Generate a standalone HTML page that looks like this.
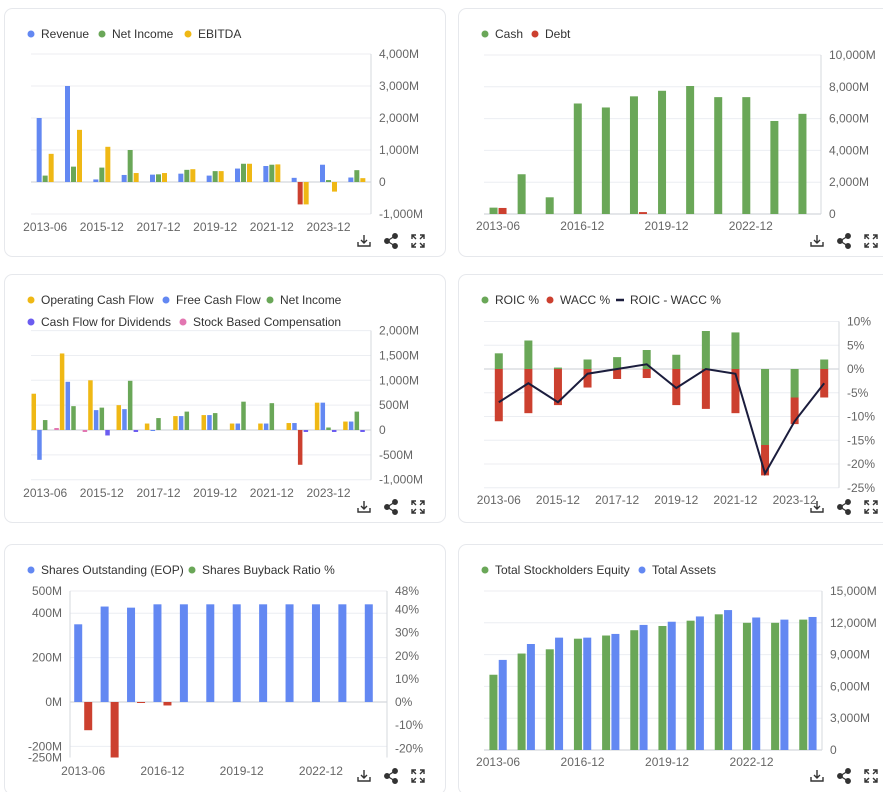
<!DOCTYPE html>
<html><head><meta charset="utf-8">
<style>
html,body{margin:0;padding:0;background:#fff;width:883px;height:792px;overflow:hidden;font-family:"Liberation Sans",Arial,sans-serif;}
svg text{font-family:"Liberation Sans",Arial,sans-serif;}
</style></head>
<body>
<svg id="root" width="883" height="792" viewBox="0 0 883 792" xmlns="http://www.w3.org/2000/svg">
  <rect x="4.5" y="8.5" width="441" height="248" rx="8" fill="#fff" stroke="#e6e8ec"/>
  <rect x="458.5" y="8.5" width="441" height="248" rx="8" fill="#fff" stroke="#e6e8ec"/>
  <rect x="4.5" y="274.5" width="441" height="248" rx="8" fill="#fff" stroke="#e6e8ec"/>
  <rect x="458.5" y="274.5" width="441" height="248" rx="8" fill="#fff" stroke="#e6e8ec"/>
  <rect x="4.5" y="544.5" width="441" height="250" rx="8" fill="#fff" stroke="#e6e8ec"/>
  <rect x="458.5" y="544.5" width="441" height="250" rx="8" fill="#fff" stroke="#e6e8ec"/>
</svg>
<script>
// ---- data ----
const catsA = ["2013-06","2014-12","2015-12","2016-12","2017-12","2018-12","2019-12","2020-12","2021-12","2022-12","2023-12","2024-12"];
const catsB = ["2013-06","2014-12","2015-12","2016-12","2017-12","2018-12","2019-12","2020-12","2021-12","2022-12","2023-12","2024-12"];
const labelsA = ["2013-06","","2015-12","","2017-12","","2019-12","","2021-12","","2023-12",""];
const labelsB = ["2013-06","","","2016-12","","","2019-12","","","2022-12","",""];

const c1Revenue = [2000,3000,80,220,230,260,200,420,500,130,540,140];
const c1NetIncome = [200,480,450,1000,240,380,340,570,540,-700,60,370];
const c1Ebitda = [880,1630,1100,280,280,400,340,570,550,-700,-300,120];
const c1Ticks = [4000,3000,2000,1000,0,-1000];
const c1TickLabels = ["4,000M","3,000M","2,000M","1,000M","0","-1,000M"];

const c2Cash = [400,2500,1050,6950,6700,7400,7750,8050,7350,7350,5850,6300];
const c2Debt = [380,0,0,0,0,120,0,0,0,0,0,0];
const c2Ticks = [10000,8000,6000,4000,2000,0];
const c2TickLabels = ["10,000M","8,000M","6,000M","4,000M","2,000M","0"];

const c3Ocf = [730,1540,1000,500,130,280,300,130,130,140,550,170];
const c3Fcf = [-600,970,400,420,-20,280,300,130,130,140,550,170];
const c3NetIncome = [200,480,450,990,240,370,340,570,540,-700,50,370];
const c3Div = [0,0,-110,-40,0,0,0,0,0,-40,-40,-40];
const c3Sbc = [40,-40,0,0,0,0,0,0,0,0,0,0];
const c3Ticks = [2000,1500,1000,500,0,-500,-1000];
const c3TickLabels = ["2,000M","1,500M","1,000M","500M","0","-500M","-1,000M"];

const c4Roic = [3.3,6,0.3,2,2.5,4,3,8,7.7,-16,-6,2];
const c4Wacc = [11,9.3,7.6,3.9,2.1,1.9,7.6,8.4,9.3,6.4,5.6,6];
const c4Spread = [-7,-3,-7,-1,0,1,-4,0,-1,-22,-11,-3];
const c4Ticks = [10,5,0,-5,-10,-15,-20,-25];
const c4TickLabels = ["10%","5%","0%","-5%","-10%","-15%","-20%","-25%"];

const c5Shares = [350,430,425,440,440,440,440,440,440,440,440,440];
const c5Buyback = [-12.2,-24,-0.3,-1.5,0,0,0,0,0,0,0,0];
const c5Ticks = [500,400,200,0,-200,-250];
const c5TickLabels = ["500M","400M","200M","0M","-200M","-250M"];
const c5PctTicks = [48,40,30,20,10,0,-10,-20];
const c5PctLabels = ["48%","40%","30%","20%","10%","0%","-10%","-20%"];

const c6Equity = [7100,9100,9500,10500,10800,11300,11700,12200,12800,12000,12000,12300];
const c6Assets = [8500,10000,10600,10600,10950,11800,12100,12600,13200,12500,12300,12550];
const c6Ticks = [15000,12000,9000,6000,3000,0];
const c6TickLabels = ["15,000M","12,000M","9,000M","6,000M","3,000M","0"];

// ---- colors ----
const BLUE="#6388f2", GREEN="#6aa758", YELLOW="#efb815", RED="#cc402f", PURPLE="#6b5cf0", PINK="#e276b1", LINE="#1b1d3d";
const NS="http://www.w3.org/2000/svg";
const root=document.getElementById('root');
function mk(tag,attrs,parent){const e=document.createElementNS(NS,tag);for(const k in attrs)e.setAttribute(k,attrs[k]);(parent||root).appendChild(e);return e;}

function axes(g,cfg,ticks,labels){
  const y=v=>cfg.zero - v*cfg.ppu;
  ticks.forEach((t,i)=>{
    const gl=mk('line',{x1:cfg.left,x2:cfg.right,y1:y(t),y2:y(t),stroke:t===0?'#c9ccd3':'#eceef2','stroke-width':1},g);
    
    
    const tx=mk('text',{x:cfg.right+8,y:y(t)+4,'font-size':12,fill:'#666'},g);
    tx.textContent=labels[i];
    
    
  });
  const ax=mk('line',{x1:cfg.right,x2:cfg.right,y1:y(ticks[0]),y2:y(ticks[ticks.length-1]),stroke:'#d5d8de'},g);
  
  
}
function xlabels(g,cfg,labels){
  const gw=(cfg.right-cfg.left)/labels.length;
  labels.forEach((l,i)=>{
    if(!l)return;
    const tx=mk('text',{x:cfg.left+gw*(i+0.5),y:cfg.xly,'font-size':12,fill:'#666','text-anchor':'middle'},g);
    tx.textContent=l;
    
    
  });
}
function bars(g,cfg,series){
  const n=series[0].vals.length, gw=(cfg.right-cfg.left)/n, k=series.length;
  const y=v=>cfg.zero - v*cfg.ppu;
  for(let i=0;i<n;i++){
    const c=cfg.left+gw*(i+0.5);
    series.forEach((s,j)=>{
      const v=s.vals[i]; if(v===0)return;
      const x=c+(j-(k-1)/2)*cfg.step-cfg.bw/2;
      const yy=Math.min(y(v),y(0)), h=Math.abs(y(v)-y(0));
      const r=mk('rect',{x:x,y:yy,width:cfg.bw,height:Math.max(h,1),fill:(v<0&&s.neg)?s.neg:s.color},g);
      
      
    });
  }
}
function legend(g,items,x0,y0){
  let x=x0;
  items.forEach(it=>{
    if(it.line){mk('line',{x1:x-4,x2:x+4,y1:y0-4,y2:y0-4,stroke:it.color,'stroke-width':2.5},g);}
    else mk('circle',{cx:x,cy:y0-4,r:3.5,fill:it.color},g);
    const t=mk('text',{x:x+10,y:y0,'font-size':12,fill:'#333'},g);
    t.textContent=it.label;
    
    
    x+=10+it.w+14;
  });
}
function legendAt(g,items,coords){
  items.forEach((it,i)=>legend(g,[it],coords[i][0],coords[i][1]));
}
function icons(g,x,y){
  const d=mk('g',{transform:`translate(${x},${y})`,fill:'none',stroke:'#333','stroke-width':1.4},g);
  
  
  mk('path',{d:'M-6 1 V5 H6 V1 M0 -6 V2 M-3 -1 L0 2 L3 -1'},d);
  const s=mk('g',{transform:`translate(${x+27},${y})`,fill:'#333',stroke:'#333','stroke-width':1.3},g);
  
  
  mk('path',{d:'M-4 0 L4 -5 M-4 0 L4 5'},s);
  mk('circle',{cx:-4,cy:0,r:2.3},s);mk('circle',{cx:4,cy:-5,r:2.3},s);mk('circle',{cx:4,cy:5,r:2.3},s);
  const f=mk('g',{transform:`translate(${x+54},${y})`,fill:'none',stroke:'#333','stroke-width':1.4},g);
  
  
  mk('path',{d:'M-6 -2 V-6 H-2 M-6 -6 L-2 -2 M2 -6 H6 V-2 M6 -6 L2 -2 M-6 2 V6 H-2 M-6 6 L-2 2 M2 6 H6 V2 M6 6 L2 2'},f);
}
function chartGroup(name){const g=mk('g',{});return g;}

// ---- chart 1 ----
(function(){
  const g=chartGroup('income-chart');
  const cfg={left:31,right:371,zero:182,ppu:0.032,bw:5,step:6,xly:231};
  axes(g,cfg,c1Ticks,c1TickLabels);
  bars(g,cfg,[{vals:c1Revenue,color:BLUE,name:'revenue'},{vals:c1NetIncome,color:GREEN,neg:RED,name:'net-income'},{vals:c1Ebitda,color:YELLOW,name:'ebitda'}]);
  xlabels(g,cfg,labelsA);
  legendAt(g,[{color:BLUE,label:'Revenue',w:0},{color:GREEN,label:'Net Income',w:0},{color:YELLOW,label:'EBITDA',w:0}],[[31,38],[102,38],[188,38]]);
  icons(g,364,241);
})();
// ---- chart 2 ----
(function(){
  const g=chartGroup('cash-debt-chart');
  const cfg={left:484,right:821,zero:214,ppu:0.0159,bw:8,step:9,xly:230};
  axes(g,cfg,c2Ticks,c2TickLabels);
  bars(g,cfg,[{vals:c2Cash,color:GREEN,name:'cash'},{vals:c2Debt,color:RED,name:'debt'}]);
  xlabels(g,cfg,labelsB);
  legendAt(g,[{color:GREEN,label:'Cash'},{color:RED,label:'Debt'}],[[485,38],[535,38]]);
  icons(g,817,241);
})();
// ---- chart 3 ----
(function(){
  const g=chartGroup('cash-flow-chart');
  const cfg={left:31,right:371,zero:430,ppu:0.0497,bw:4.5,step:5.7,xly:497};
  axes(g,cfg,c3Ticks,c3TickLabels);
  bars(g,cfg,[{vals:c3Ocf,color:YELLOW,name:'operating-cash-flow'},{vals:c3Fcf,color:BLUE,name:'free-cash-flow'},{vals:c3NetIncome,color:GREEN,neg:RED,name:'net-income'},{vals:c3Div,color:PURPLE,name:'dividends'},{vals:c3Sbc,color:PINK,name:'stock-comp'}]);
  xlabels(g,cfg,labelsA);
  legendAt(g,[{color:YELLOW,label:'Operating Cash Flow'},{color:BLUE,label:'Free Cash Flow'},{color:GREEN,label:'Net Income'},{color:PURPLE,label:'Cash Flow for Dividends'},{color:PINK,label:'Stock Based Compensation'}],[[31,304],[166,304],[270,304],[31,326],[183,326]]);
  icons(g,364,507);
})();
// ---- chart 4 ----
(function(){
  const g=chartGroup('roic-wacc-chart');
  const cfg={left:484,right:839,zero:369,ppu:4.75,xly:504};
  axes(g,cfg,c4Ticks,c4TickLabels);
  const n=c4Roic.length, gw=(cfg.right-cfg.left)/n, y=v=>cfg.zero-v*cfg.ppu;
  const pts=[];
  for(let i=0;i<n;i++){
    const c=cfg.left+gw*(i+0.5);
    const r=c4Roic[i];
    const rr=mk('rect',{x:c-4,y:Math.min(y(r),y(0)),width:8,height:Math.abs(y(r)-y(0)),fill:GREEN},g);
    
    
    const base=Math.min(r,0);
    const wr=mk('rect',{x:c-4,y:y(base),width:8,height:c4Wacc[i]*cfg.ppu,fill:RED},g);
    
    
    pts.push(c+','+y(c4Spread[i]));
  }
  const pl=mk('polyline',{points:pts.join(' '),fill:'none',stroke:LINE,'stroke-width':2},g);
  
  
  xlabels(g,cfg,labelsA);
  legendAt(g,[{color:GREEN,label:'ROIC %'},{color:RED,label:'WACC %'},{color:LINE,label:'ROIC - WACC %',line:true}],[[485,304],[550,304],[620,304]]);
  icons(g,817,507);
})();
// ---- chart 5 ----
(function(){
  const g=chartGroup('shares-chart');
  const cfg={left:70,right:387,zero:702,ppu:0.222,xly:775};
  const pp=2.3125, y=v=>cfg.zero-v*cfg.ppu, yp=v=>cfg.zero-v*pp;
  c5Ticks.forEach((t,i)=>{
    if(t!==-250){const gl=mk('line',{x1:cfg.left,x2:cfg.right,y1:y(t),y2:y(t),stroke:t===0?'#c9ccd3':'#eceef2'},g);
    
    }
    const tx=mk('text',{x:62,y:y(t)+4,'font-size':12,fill:'#666','text-anchor':'end'},g);
    tx.textContent=c5TickLabels[i];
    
    
  });
  c5PctTicks.forEach((t,i)=>{
    const tx=mk('text',{x:cfg.right+8,y:yp(t)+4,'font-size':12,fill:'#666'},g);
    tx.textContent=c5PctLabels[i];
    
    
  });
  mk('line',{x1:cfg.left,x2:cfg.left,y1:y(500),y2:y(-250),stroke:'#d5d8de'},g);
  mk('line',{x1:cfg.right,x2:cfg.right,y1:y(500),y2:y(-250),stroke:'#d5d8de'},g);
  const n=c5Shares.length, gw=(cfg.right-cfg.left)/n;
  for(let i=0;i<n;i++){
    const c=cfg.left+gw*(i+0.5);
    const b=mk('rect',{x:c-9,y:y(c5Shares[i]),width:8,height:c5Shares[i]*cfg.ppu,fill:BLUE},g);
    
    
    const v=c5Buyback[i]; if(v===0)continue;
    const r=mk('rect',{x:c+1,y:Math.min(yp(v),yp(0)),width:8,height:Math.max(Math.abs(v)*pp,1),fill:RED},g);
    
    
  }
  xlabels(g,cfg,labelsB);
  legendAt(g,[{color:BLUE,label:'Shares Outstanding (EOP)'},{color:GREEN,label:'Shares Buyback Ratio %'}],[[31,574],[192,574]]);
  icons(g,364,776);
})();
// ---- chart 6 ----
(function(){
  const g=chartGroup('equity-assets-chart');
  const cfg={left:484,right:822,zero:750,ppu:0.0106,bw:8,step:9.3,xly:766};
  axes(g,cfg,c6Ticks,c6TickLabels);
  bars(g,cfg,[{vals:c6Equity,color:GREEN,name:'equity'},{vals:c6Assets,color:BLUE,name:'assets'}]);
  xlabels(g,cfg,labelsB);
  legendAt(g,[{color:GREEN,label:'Total Stockholders Equity'},{color:BLUE,label:'Total Assets'}],[[485,574],[642,574]]);
  icons(g,817,776);
})();
</script>
</body></html>
